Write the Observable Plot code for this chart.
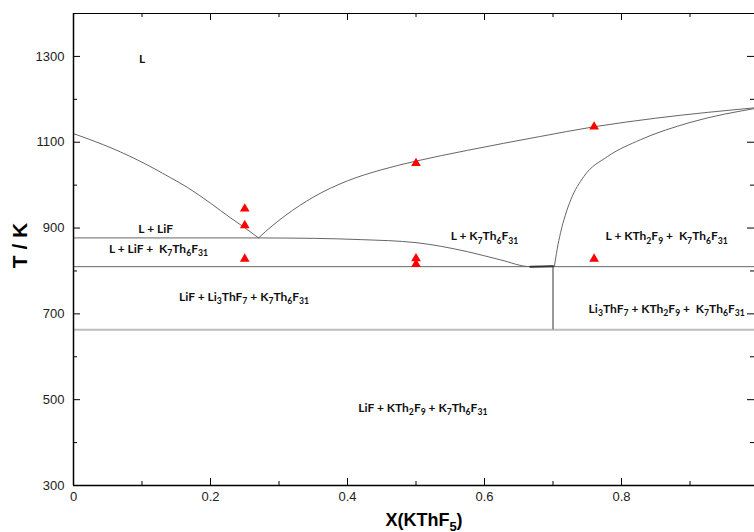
<!DOCTYPE html>
<html><head><meta charset="utf-8">
<script src="https://cdn.jsdelivr.net/npm/d3@7"></script>
<script src="https://cdn.jsdelivr.net/npm/@observablehq/plot@0.6"></script>
<style>body{margin:0;background:#fff;overflow:hidden}#chart svg{display:block}</style>
</head><body><div id="chart"></div>
<script>
// Liquidus of LiF
const liqLiF_X = [0, 0.044, 0.093, 0.142, 0.166, 0.2, 0.229, 0.248, 0.27];
const liqLiF_T = [1120, 1094, 1059, 1017, 995, 958, 924, 903, 877];
// Liquidus of K7Th6F31
const liqK7_X = [0.27, 0.29, 0.31, 0.35, 0.4, 0.45, 0.5, 0.575, 0.68, 0.76, 0.85, 1.0];
const liqK7_T = [877, 905, 930, 972, 1010, 1036, 1056, 1081, 1113, 1136, 1156, 1181];
// Liquidus of KTh2F9
const liqKTh2_X = [0.702, 0.706, 0.711, 0.718, 0.726, 0.745, 0.78, 0.828, 0.9, 1.0];
const liqKTh2_T = [810, 850, 889, 930, 966, 1020, 1067, 1106, 1146, 1180];
// Lower boundary of L + K7Th6F31
const lowK7_X = [0.27, 0.35, 0.42, 0.5, 0.575, 0.623, 0.667, 0.70];
const lowK7_T = [877, 876, 873, 866, 845, 826, 810, 811];
// Isotherms
const isoT = [877, 810, 663];
const isoX1 = [0, 0, 0];
const isoX2 = [0.27, 1, 1];
// Vertical line at K7Th6F31 composition
const vertX = [0.70];
const vertT1 = [663];
const vertT2 = [810];
// Experimental points (red triangles)
const triX = [0.25, 0.25, 0.25, 0.5, 0.5, 0.5, 0.76, 0.76];
const triT = [945, 906, 828, 1051, 829, 816, 1136, 828];
// Phase field labels
const labText = ["L", "L + LiF", "L + LiF +  K{7}Th{6}F{31}", "LiF + Li{3}ThF{7} + K{7}Th{6}F{31}",
  "L + K{7}Th{6}F{31}", "L + KTh{2}F{9} +  K{7}Th{6}F{31}", "Li{3}ThF{7} + KTh{2}F{9} +  K{7}Th{6}F{31}",
  "LiF + KTh{2}F{9} + K{7}Th{6}F{31}"];
const labX = [0.1, 0.12, 0.124, 0.249, 0.6, 0.866, 0.866, 0.51];
const labT = [1293, 898, 850, 740, 880, 880, 710, 481];
// Ticks
const xMajor = [0, 0.2, 0.4, 0.6, 0.8];
const xMinor = [0.1, 0.3, 0.5, 0.7, 0.9];
const yMajor = [300, 500, 700, 900, 1100, 1300];
const yMinor = [400, 600, 800, 1000, 1200, 1400];

const W = 754, H = 532, ML = 73, MR = 0, MT = 13, MB = 47;
const PW = W - ML - MR, PH = H - MT - MB;
const toRows = (xs, ts) => xs.map((x, i) => ({x, T: ts[i]}));
const iso = isoT.map((T, i) => ({T, x1: isoX1[i], x2: isoX2[i]}));
const vert = vertX.map((x, i) => ({x, T1: vertT1[i], T2: vertT2[i]}));
const tris = toRows(triX, triT);
const labs = labText.map((t, i) => ({t, x: labX[i], T: labT[i]}));

const curveStyle = {x: "x", y: "T", stroke: "#666", strokeWidth: 1, curve: "monotone-x", clip: true};

const plot = Plot.plot({
  width: W, height: H,
  marginLeft: ML, marginRight: MR, marginTop: MT, marginBottom: MB,
  x: {domain: [0, PW / 685], axis: null},
  y: {domain: [300, 1400], axis: null},
  style: {background: "#fff", overflow: "hidden"},
  marks: [
    // isotherms
    Plot.ruleY(iso.filter(d => d.T !== 663), {y: "T", x1: "x1", x2: "x2", stroke: "#666", strokeWidth: 1, clip: true}),
    Plot.ruleY(iso.filter(d => d.T === 663), {y: "T", x1: "x1", x2: "x2", stroke: "#bdbdbd", strokeWidth: 2, clip: true}),
    Plot.ruleX(vert, {x: "x", y1: "T1", y2: "T2", stroke: "#555", strokeWidth: 1.2}),
    Plot.line(toRows(liqLiF_X, liqLiF_T), curveStyle),
    Plot.line(toRows(liqK7_X, liqK7_T), curveStyle),
    Plot.line(toRows(liqKTh2_X, liqKTh2_T), curveStyle),
    Plot.line(toRows(lowK7_X, lowK7_T), curveStyle),
    Plot.line(toRows(lowK7_X, lowK7_T).slice(-2), {x: "x", y: "T", stroke: "#333", strokeWidth: 2}),
    // triangles
    Plot.dot(tris, {x: "x", y: "T", symbol: "triangle", r: 3.6, fill: "#ff0000", stroke: "none"}),
    // labels
    Plot.text(labs, {x: "x", y: "T", text: "t", fontFamily: "Lato", fontWeight: "bold", fontSize: 12, fill: "#111", textAnchor: "middle", lineAnchor: "middle"}),
    // frame lines
    Plot.ruleX([0], {stroke: "#000", strokeWidth: 1.5}),
    Plot.ruleY([300], {stroke: "#000", strokeWidth: 1.5}),
    Plot.ruleY([1400], {stroke: "#000", strokeWidth: 1}),
    // inward ticks: left
    Plot.tickY(yMajor, {y: d => d, insetRight: PW - 7, stroke: "#000"}),
    Plot.tickY(yMinor, {y: d => d, insetRight: PW - 4, stroke: "#000"}),
    // right
    Plot.tickY(yMajor, {y: d => d, insetLeft: PW - 7, stroke: "#000"}),
    Plot.tickY(yMinor, {y: d => d, insetLeft: PW - 4, stroke: "#000"}),
    // bottom
    Plot.tickX(xMajor, {x: d => d, insetTop: PH - 7, stroke: "#000"}),
    Plot.tickX(xMinor, {x: d => d, insetTop: PH - 4, stroke: "#000"}),
    // top
    Plot.tickX(xMajor, {x: d => d, insetBottom: PH - 7, stroke: "#000"}),
    Plot.tickX(xMinor, {x: d => d, insetBottom: PH - 4, stroke: "#000"}),
    // tick labels
    Plot.axisX(xMajor, {anchor: "bottom", tickSize: 0, tickPadding: 6, label: null, fontSize: 13, fontFamily: "Liberation Sans", fill: "#222", tickFormat: d => String(d)}),
    Plot.axisY(yMajor, {anchor: "left", tickSize: 0, tickPadding: 9, label: null, fontSize: 13, fontFamily: "Liberation Sans", fill: "#222", tickFormat: d => String(d)}),
    // axis titles
    Plot.text(["T / K"], {frameAnchor: "left", dx: -53, dy: -4, rotate: -90, text: d => d, fontFamily: "Liberation Sans", fontWeight: "bold", fontSize: 21, fill: "#000", textAnchor: "middle", lineAnchor: "middle"}),
    Plot.text(["X(KThF{5})"], {frameAnchor: "bottom", dx: 10, dy: 35, text: d => d, fontFamily: "Liberation Sans", fontWeight: "bold", fontSize: 18, fill: "#000", textAnchor: "middle", lineAnchor: "middle"})
  ]
});

// render subscripts written as {n}
const NS = "http://www.w3.org/2000/svg";
plot.querySelectorAll("text").forEach(t => {
  const s = t.textContent;
  if (!s.includes("{")) return;
  while (t.firstChild) t.removeChild(t.firstChild);
  const parts = s.split(/(\{[^}]*\})/).filter(p => p);
  let down = false;
  for (const p of parts) {
    const ts = document.createElementNS(NS, "tspan");
    if (p.startsWith("{")) {
      ts.textContent = p.slice(1, -1);
      ts.setAttribute("font-size", "72%");
      ts.setAttribute("dy", "0.35em");
      down = true;
    } else {
      ts.textContent = p;
      if (down) ts.setAttribute("dy", "-0.252em");
      down = false;
    }
    t.appendChild(ts);
  }
});
document.getElementById("chart").appendChild(plot);
</script>
</body></html>
